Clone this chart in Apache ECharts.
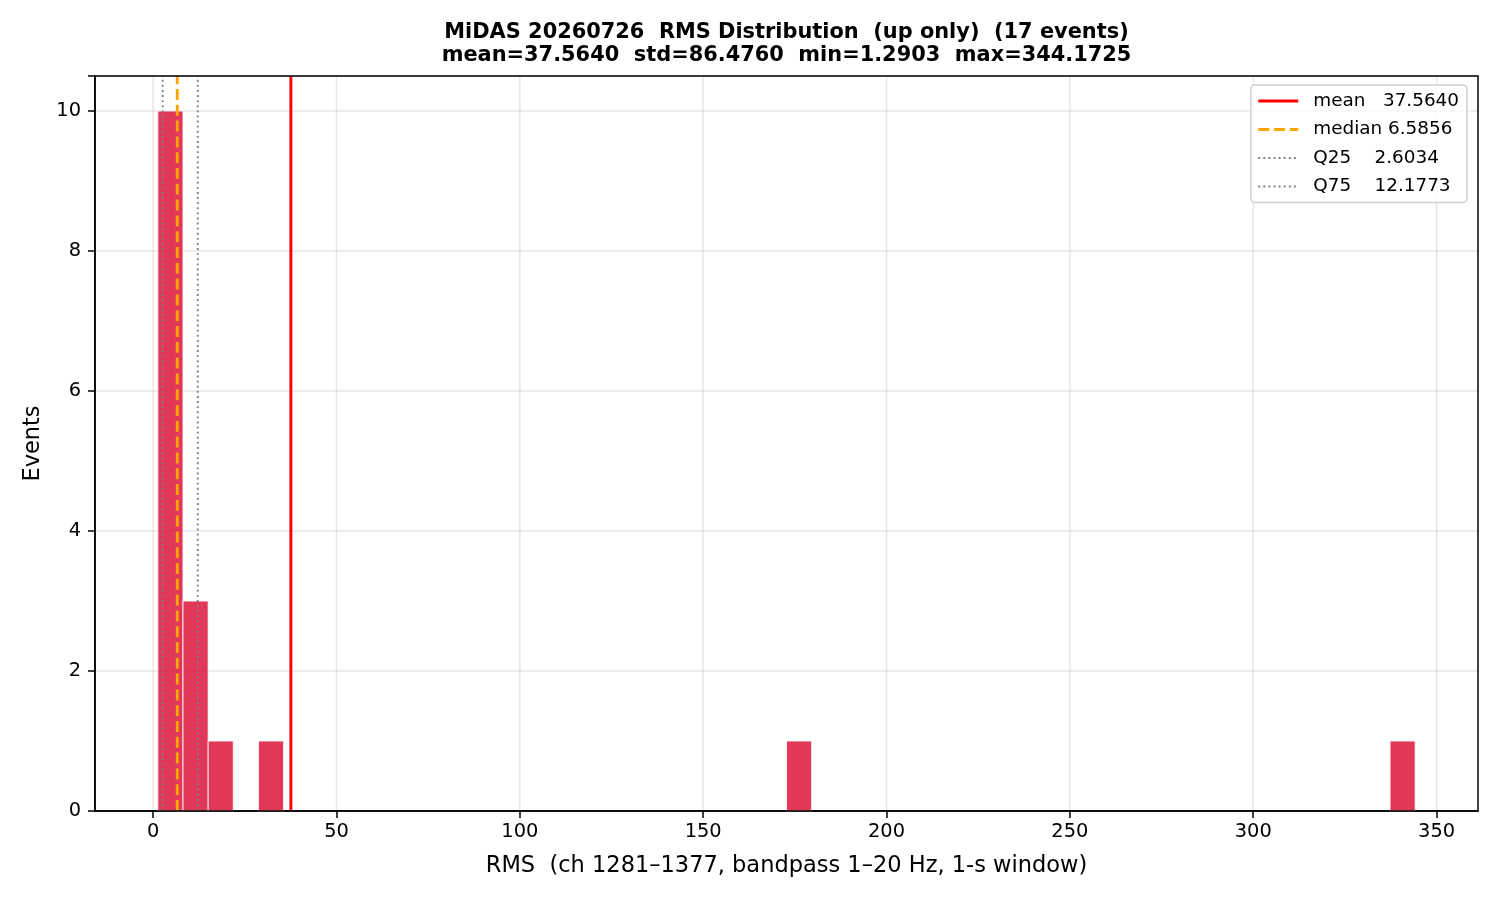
<!DOCTYPE html>
<html>
	<head>
		<meta charset="utf-8" />
		<title>RMS Distribution</title>
		<style>
			html,body{margin:0;padding:0;background:#fff;}
			#chart{width:1500px;height:900px;}
		</style>
	</head>
	<body>
		<div id="chart"></div>
		<script src="https://cdn.jsdelivr.net/npm/echarts@6/dist/echarts.min.js" type="text/javascript" charset="utf-8"></script>
		<script type="text/javascript">
			// histogram bins (only non-empty ones)
			var binLeft = [1.29, 8.15, 15.01, 28.72, 172.73, 337.31];
			var binRight = [8.15, 15.01, 21.86, 35.58, 179.59, 344.17];
			var counts = [10, 3, 1, 1, 1, 1];

			// summary lines
			var lineNames = ['mean   37.5640', 'median 6.5856', 'Q25    2.6034', 'Q75    12.1773'];
			var lineValues = [37.5640, 6.5856, 2.6034, 12.1773];
			var lineColors = ['#ff0000', '#ffa500', '#808080', '#808080'];
			var lineTypes = ['solid', [11, 4.8], [1.9, 3.2], [1.9, 3.2]];
			var lineWidths = [2.9, 2.9, 1.9, 1.9];

			var xTicks = [0, 50, 100, 150, 200, 250, 300, 350];
			var xMin = -15.85, xMax = 361.3;
			var yMax = 10.5;

			var font = 'DejaVu Sans';

			var histData = [];
			for (var i = 0; i < counts.length; i++) {
				histData.push([binLeft[i], binRight[i], counts[i]]);
			}

			var series = [];
			var legendData = [];
			// vertical grid lines behind everything
			series.push({
				type: 'custom',
				silent: true,
				z: 0,
				renderItem: function(params, api){
					var x = api.value(0);
					var p0 = api.coord([x, 0]);
					var p1 = api.coord([x, yMax]);
					return {type: 'line', shape: {x1: p0[0], y1: p0[1], x2: p1[0], y2: p1[1]},
						style: {stroke: '#b0b0b0', opacity: 0.3, lineWidth: 1.5}};
				},
				data: xTicks.map(function(t){ return [t]; })
			});
			series.push({
				type: 'custom',
				name: 'hist',
				z: 2,
				renderItem: function(params, api){
					var a = api.coord([api.value(0), api.value(2)]);
					var b = api.coord([api.value(1), 0]);
					return {type: 'rect', shape: {x: a[0], y: a[1], width: b[0] - a[0], height: b[1] - a[1]},
						style: {fill: '#dc143c', opacity: 0.85, stroke: '#ffffff', lineWidth: 1}};
				},
				encode: {x: [0, 1], y: 2},
				data: histData
			});
			for (var k = 0; k < lineValues.length; k++) {
				var ls = {color: lineColors[k], type: lineTypes[k], width: lineWidths[k]};
				series.push({
					type: 'line',
					name: lineNames[k],
					z: 5,
					symbol: 'none',
					silent: true,
					color: lineColors[k],
					lineStyle: ls,
					data: [[lineValues[k], 0], [lineValues[k], yMax]]
				});
				legendData.push({name: lineNames[k], lineStyle: ls});
			}

			var myChart = echarts.init(document.getElementById('chart'));
			myChart.setOption({
				animation: false,
				textStyle: {fontFamily: font},
				graphic: [{
					type: 'text', x: 786.5, y: 33,
					style: {text: 'MiDAS 20260726  RMS Distribution  (up only)  (17 events)', font: 'bold 20.9px ' + font, fill: '#000', textAlign: 'center', textVerticalAlign: 'middle'}
				}, {
					type: 'text', x: 786.5, y: 56,
					style: {text: 'mean=37.5640  std=86.4760  min=1.2903  max=344.1725', font: 'bold 20.9px ' + font, fill: '#000', textAlign: 'center', textVerticalAlign: 'middle'}
				}],
				grid: {left: 95, right: 22, top: 76, bottom: 89, show: true, borderColor: '#000', borderWidth: 1.5, z: 10},
				legend: {
					data: legendData,
					orient: 'vertical',
					right: 33, top: 85,
					itemWidth: 40, itemHeight: 14, itemGap: 10.5,
					padding: [7, 8, 7, 6],
					borderColor: '#d0d0d0', borderWidth: 1.5, borderRadius: 4,
					backgroundColor: 'rgba(255,255,255,0.8)',
					itemStyle: {opacity: 0},
					textStyle: {fontFamily: font, fontSize: 18.4, color: '#000', padding: [0, 0, 0, 10]}
				},
				xAxis: {
					type: 'value', min: xMin, max: xMax,
					name: 'RMS  (ch 1281\u20131377, bandpass 1\u201320 Hz, 1-s window)',
					nameLocation: 'middle', nameGap: 44,
					nameTextStyle: {fontFamily: font, fontSize: 22.5, color: '#000'},
					axisLine: {show: true, onZero: false, lineStyle: {color: '#000', width: 1.5}},
					axisTick: {show: true, customValues: xTicks, length: 7, lineStyle: {color: '#000', width: 1.5}},
					axisLabel: {customValues: xTicks, fontSize: 19.4, color: '#000', margin: 11, fontFamily: font},
					splitLine: {show: false}
				},
				yAxis: {
					type: 'value', min: 0, max: yMax, interval: 2,
					name: 'Events', nameLocation: 'middle', nameGap: 50,
					nameTextStyle: {fontFamily: font, fontSize: 22.5, color: '#000'},
					axisLine: {show: true, onZero: false, lineStyle: {color: '#000', width: 1.5}},
					axisTick: {show: true, length: 7, lineStyle: {color: '#000', width: 1.5}},
					axisLabel: {fontSize: 19.4, color: '#000', margin: 14, fontFamily: font,
						formatter: function(v){ return v % 2 === 0 ? v : ''; }},
					splitLine: {show: true, lineStyle: {color: '#b0b0b0', opacity: 0.3, width: 1.5}}
				},
				series: series
			});
		</script>
	</body>
</html>
